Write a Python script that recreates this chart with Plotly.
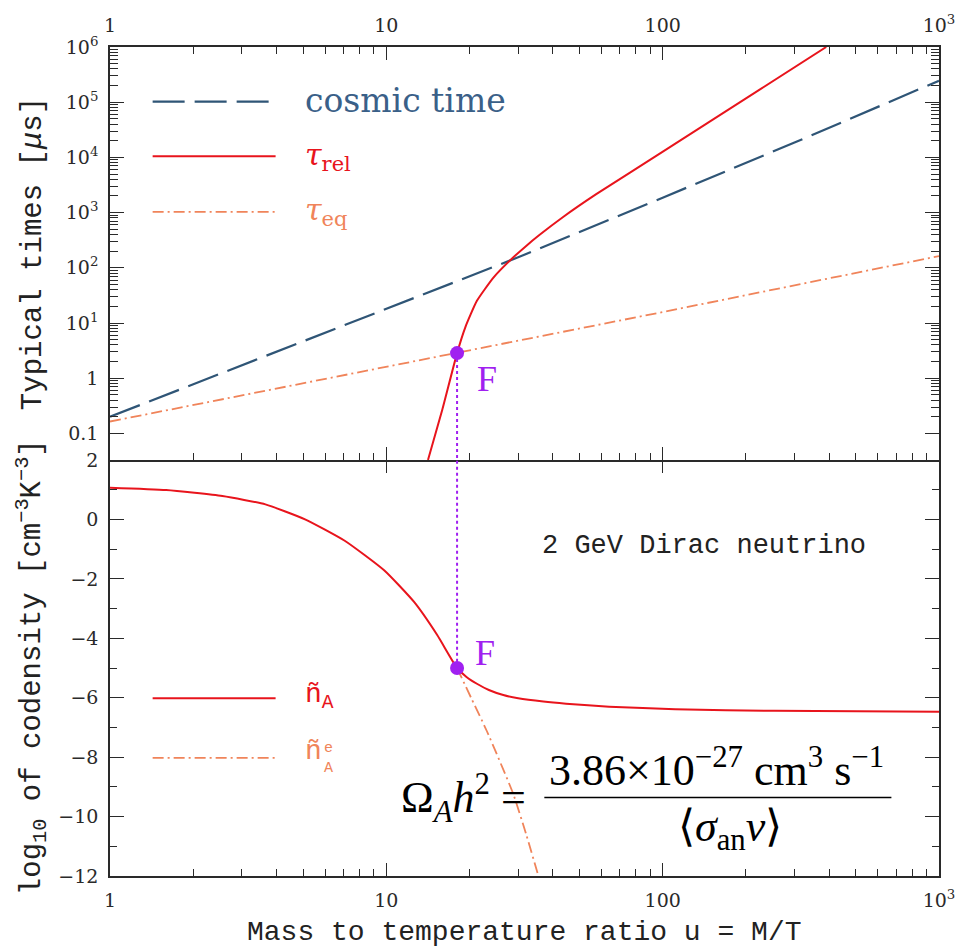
import plotly.graph_objects as go

# ---------------- data ----------------
u_cosmic = [1, 3, 10, 30, 100, 300, 1000]
t_cosmic = [0.20, 1.70, 17.8, 155, 1860, 18600, 245000]

u_eq = [1, 10, 100, 1000]
t_eq = [0.164, 1.59, 15.8, 163]

u_rel = [14.15, 15.93, 18.03, 19.31, 21.27, 24.41, 28.02, 32.15, 35.88, 43.5, 57.3, 99.5, 227.3, 390.8]
t_rel = [0.033, 0.265, 2.85, 8.36, 25.2, 66.4, 136, 252, 396, 824, 2133, 12450, 175800, 1.0e6]

u_n = [1, 1.597, 2.551, 3.650, 5.079, 7.07, 9.84, 12.60, 15.28, 18.03, 19.5, 21.27, 23.5, 26.5, 30, 37, 44.7, 64, 111, 254, 1000]
n_A = [1.065, 0.987, 0.787, 0.507, 0.005, -0.717, -1.719, -2.778, -3.891, -5.0, -5.30, -5.53, -5.74, -5.91, -6.02, -6.13, -6.20, -6.30, -6.39, -6.44, -6.47]

u_ne = [18.03, 20.4, 23.1, 28.8, 32.15, 35.5]
n_Ae = [-5.0, -6.06, -7.12, -9.24, -10.63, -12.0]

F_u = 18.03
F_t = 2.85
F_n = -5.0

x_tickvals = [1, 10, 100, 1000]
x_ticktext = ["1", "10", "100", "10<sup>3</sup>"]
y1_tickvals = [0.1, 1, 10, 100, 1e3, 1e4, 1e5, 1e6]
y1_ticktext = ["0.1", "1", "10<sup>1</sup>", "10<sup>2</sup>", "10<sup>3</sup>",
               "10<sup>4</sup>", "10<sup>5</sup>", "10<sup>6</sup>"]
y2_tickvals = [2, 0, -2, -4, -6, -8, -10, -12]
y2_ticktext = ["2", "0", "−2", "−4", "−6", "−8", "−10", "−12"]

# ---------------- styling ----------------
RED = "#e8141c"
BLUE = "#2f5576"
ORANGE = "#f0845a"
PURPLE = "#a020f0"
AX = "#2a2a2a"
DASH_LONG = "32px,10px"
DASH_DOT = "11px,4px,2px,4px"
TXT = "Liberation Mono"

W, H = 967, 949
ML, MR, MT, MB = 110, 21, 41, 73
PW, PH = W - ML - MR, H - MT - MB


def px(x, y):
    return (x - ML) / PW, (H - MB - y) / PH


fig = go.Figure()

# top panel
fig.add_trace(go.Scatter(x=u_cosmic, y=t_cosmic, mode="lines", xaxis="x", yaxis="y",
                         line=dict(color=BLUE, width=2.2, dash=DASH_LONG)))
fig.add_trace(go.Scatter(x=u_eq, y=t_eq, mode="lines", xaxis="x", yaxis="y",
                         line=dict(color=ORANGE, width=1.8, dash=DASH_DOT)))
fig.add_trace(go.Scatter(x=u_rel, y=t_rel, mode="lines", xaxis="x", yaxis="y",
                         line=dict(color=RED, width=2, shape="spline", smoothing=0.5)))
fig.add_trace(go.Scatter(x=[F_u, F_u], y=[F_t, 1e-3], mode="lines", xaxis="x", yaxis="y",
                         line=dict(color=PURPLE, width=2, dash="dot")))
fig.add_trace(go.Scatter(x=[F_u], y=[F_t], mode="markers", xaxis="x", yaxis="y",
                         marker=dict(color=PURPLE, size=14)))

# bottom panel
fig.add_trace(go.Scatter(x=u_ne, y=n_Ae, mode="lines", xaxis="x2", yaxis="y2",
                         line=dict(color=ORANGE, width=1.8, dash=DASH_DOT, shape="spline", smoothing=0.5)))
fig.add_trace(go.Scatter(x=u_n, y=n_A, mode="lines", xaxis="x2", yaxis="y2",
                         line=dict(color=RED, width=2, shape="spline", smoothing=0.5)))
fig.add_trace(go.Scatter(x=[F_u, F_u], y=[5, F_n], mode="lines", xaxis="x2", yaxis="y2",
                         line=dict(color=PURPLE, width=2, dash="dot")))
fig.add_trace(go.Scatter(x=[F_u], y=[F_n], mode="markers", xaxis="x2", yaxis="y2",
                         marker=dict(color=PURPLE, size=14)))
# empty trace so that the overlay axis (boundary ticks) is drawn
fig.add_trace(go.Scatter(x=[None], y=[None], mode="lines", xaxis="x3", yaxis="y2",
                         hoverinfo="skip"))

tickfont = dict(family="DejaVu Serif", size=19, color=AX)
split = 419 / PH

x_minor = [k * 10 ** e for e in range(0, 3) for k in range(2, 10)]
y_minor = [k * 10 ** e for e in range(-1, 6) for k in range(2, 10)]

common_x = dict(type="log", range=[0, 3], showline=True, linecolor=AX, linewidth=1.5,
                ticks="inside", ticklen=13, tickwidth=1.3, tickcolor=AX,
                tickmode="array", tickvals=x_tickvals, ticktext=x_ticktext,
                showgrid=False, zeroline=False, tickfont=tickfont,
                minor=dict(tickmode="array", tickvals=x_minor, ticks="inside", ticklen=7,
                           tickwidth=1.2, tickcolor=AX, showgrid=False))

fig.update_layout(
    width=W, height=H,
    margin=dict(l=ML, r=MR, t=MT, b=MB),
    paper_bgcolor="white", plot_bgcolor="white",
    showlegend=False,
    xaxis=dict(common_x, domain=[0, 1], anchor="y", side="top", mirror="ticks",
               ticklabelstandoff=6),
    xaxis2=dict(common_x, domain=[0, 1], anchor="y2", side="bottom", mirror=False,
                ticklabelstandoff=6),
    # major ticks hanging down from the panel boundary into the lower panel
    xaxis3=dict(type="log", range=[0, 3], overlaying="x2", anchor="y2", side="top",
                showline=False, ticks="inside", ticklen=13, tickwidth=1.3, tickcolor=AX,
                tickmode="array", tickvals=x_tickvals, showticklabels=False,
                showgrid=False, zeroline=False),
    yaxis=dict(type="log", domain=[split, 1], anchor="x", range=[-1.482, 6],
               showline=True, linecolor=AX, linewidth=1.5, mirror="ticks",
               ticks="inside", ticklen=14, tickwidth=1.3, tickcolor=AX,
               tickmode="array", tickvals=y1_tickvals, ticktext=y1_ticktext,
               showgrid=False, zeroline=False, tickfont=tickfont, ticklabelstandoff=6,
               minor=dict(tickmode="array", tickvals=y_minor, ticks="inside", ticklen=8,
                          tickwidth=1.1, tickcolor=AX, showgrid=False)),
    yaxis2=dict(domain=[0, split], anchor="x2", range=[-12, 2],
                showline=True, linecolor=AX, linewidth=1.5, mirror="ticks",
                ticks="inside", ticklen=14, tickwidth=1.3, tickcolor=AX,
                tickmode="array", tickvals=y2_tickvals, ticktext=y2_ticktext,
                showgrid=False, zeroline=False, tickfont=tickfont, ticklabelstandoff=6,
                minor=dict(tickmode="linear", tick0=1, dtick=2, ticks="inside", ticklen=7,
                           tickwidth=1.2, tickcolor=AX, showgrid=False)),
)

# legend sample lines (decorations)
shapes = []
for ypix, col, dash, wdt in [(96, BLUE, DASH_LONG, 2.2), (151, RED, "solid", 2),
                             (207, ORANGE, DASH_DOT, 1.8), (697, RED, "solid", 2),
                             (757, ORANGE, DASH_DOT, 1.8)]:
    x0, y0 = px(153, ypix)
    x1, _ = px(277, ypix)
    shapes.append(dict(type="line", xref="paper", yref="paper", x0=x0, x1=x1, y0=y0, y1=y0,
                       line=dict(color=col, width=wdt, dash=dash)))
# fraction bar
fx0, fy = px(548, 797)
fx1, _ = px(898, 797)
shapes.append(dict(type="line", xref="paper", yref="paper", x0=fx0, x1=fx1, y0=fy, y1=fy,
                   line=dict(color="black", width=1.6)))
fig.update_layout(shapes=shapes)


def ann(text, x, y, size, color="black", family="DejaVu Serif", xanchor="left",
        yanchor="middle", angle=0):
    xp, yp = px(x, y)
    fig.add_annotation(text=text, x=xp, y=yp, xref="paper", yref="paper", showarrow=False,
                       xanchor=xanchor, yanchor=yanchor, textangle=angle,
                       font=dict(family=family, size=size, color=color))


LEGC = "#3a6088"
ann("cosmic time", 305, 95, 33, LEGC)
ann("<i>τ</i><sub>rel</sub>", 305, 151, 30, RED)
ann("<i>τ</i><sub>eq</sub>", 305, 207, 30, ORANGE)
ann("ñ<sub>A</sub>", 305, 695, 28, RED, family=TXT)
ann("ñ", 305, 751, 28, ORANGE, family=TXT)
ann("e<br>A", 324, 758, 15, ORANGE, family=TXT)

ann("F", 478, 375, 36, PURPLE, family="Liberation Serif")
ann("F", 476, 651, 36, PURPLE, family="Liberation Serif")
ann("2 GeV Dirac neutrino", 709, 544, 27, "#222", family=TXT, xanchor="center")

ann("Ω<sub><i>A</i></sub><i>h</i><sup>2</sup> =", 532, 797, 44, "black",
    family="Liberation Serif", xanchor="right")
ann("3.86×10<sup>−27</sup> cm<sup>3</sup> s<sup>−1</sup>", 722, 767, 44, "black",
    family="Liberation Serif", xanchor="center")
ann("⟨<i>σ</i><sub>an</sub><i>v</i>⟩", 735, 829, 44, "black",
    family="Liberation Serif", xanchor="center")

ann("Typical times [<i>μ</i>s]", 33, 249, 29, "#222", family=TXT, xanchor="center", angle=-90)
ann("log<sub>10</sub> of codensity [cm<sup>−3</sup>K<sup>−3</sup>]", 31, 666, 29, "#222",
    family=TXT, xanchor="center", angle=-90)
ann("Mass to temperature ratio u = M/T", 528, 933, 28, "#222", family=TXT, xanchor="center")

fig.write_html("out.html")
